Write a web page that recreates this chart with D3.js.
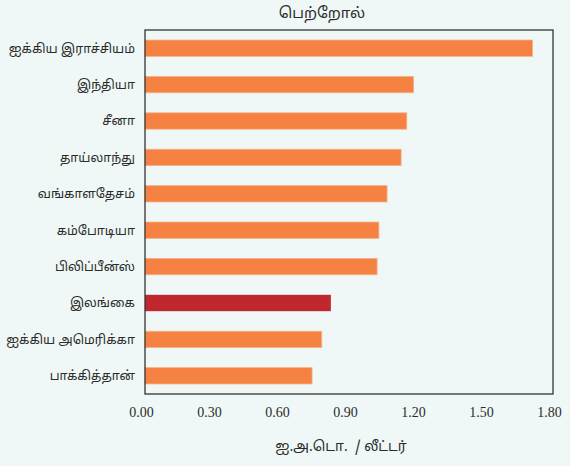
<!DOCTYPE html>
<html>
<head>
<meta charset="utf-8">
<style>
  body { margin: 0; background: #eff8f6; }
  svg text { fill: #2b2b2b; }
  .cat { font-family: "Noto Sans Tamil", "Noto Sans", sans-serif; font-size: 12.6px; white-space: pre; }
</style>
<script src="https://cdn.jsdelivr.net/npm/d3@7"></script>
</head>
<body>
<script>
// data
var countries = ["ஐக்கிய இராச்சியம்", "இந்தியா", "சீனா", "தாய்லாந்து", "வங்காளதேசம்",
                 "கம்போடியா", "பிலிப்பீன்ஸ்", "இலங்கை", "ஐக்கிய அமெரிக்கா", "பாக்கித்தான்"];
var prices = [1.71, 1.185, 1.155, 1.13, 1.068, 1.032, 1.024, 0.82, 0.78, 0.737];
var ticks = [0, 0.3, 0.6, 0.9, 1.2, 1.5, 1.8];
var highlight = "இலங்கை";

var width = 570, height = 466;
var margin = {top: 30, right: 17, bottom: 72, left: 145};

var svg = d3.select("body").append("svg")
    .attr("width", width)
    .attr("height", height);

var x = d3.scaleLinear()
    .domain([0, 1.8])
    .range([margin.left, width - margin.right]);

var y = d3.scaleBand()
    .domain(countries)
    .range([margin.top, height - margin.bottom])
    .paddingInner(0.55)
    .paddingOuter(0.275);

// bars
svg.selectAll("rect.bar")
    .data(countries)
  .enter().append("rect")
    .attr("class", "bar")
    .attr("x", x(0))
    .attr("y", function(d) { return y(d); })
    .attr("width", function(d, i) { return x(prices[i]) - x(0); })
    .attr("height", y.bandwidth())
    .attr("fill", function(d) { return d == highlight ? "#c1272f" : "#f58242"; })
    .attr("stroke", function(d) { return d == highlight ? "none" : "#f7b48c"; })
    .attr("stroke-width", 0.8);

// frame
svg.append("rect")
    .attr("x", margin.left)
    .attr("y", margin.top)
    .attr("width", width - margin.left - margin.right)
    .attr("height", height - margin.top - margin.bottom)
    .attr("fill", "none")
    .attr("stroke", "#333")
    .attr("stroke-width", 1.3);

// category labels
svg.selectAll("text.cat")
    .data(countries)
  .enter().append("text")
    .attr("class", "cat")
    .attr("x", 135)
    .attr("y", function(d) { return y(d) + y.bandwidth() / 2; })
    .attr("dy", "0.35em")
    .attr("text-anchor", "end")
    .text(function(d) { return d; });

// x axis, tick labels only
var xAxis = svg.append("g")
    .attr("transform", "translate(-4," + (height - margin.bottom) + ")")
    .call(d3.axisBottom(x).tickValues(ticks).tickFormat(d3.format(".2f")).tickSize(0).tickPadding(13));
xAxis.select(".domain").remove();
xAxis.selectAll(".tick text")
    .attr("font-family", "'Liberation Serif', serif")
    .attr("font-size", 14);

svg.append("text")
    .attr("class", "cat")
    .attr("x", 322)
    .attr("y", 18)
    .attr("text-anchor", "middle")
    .style("font-size", "15px")
    .text("பெற்றோல்");

svg.append("text")
    .attr("class", "cat")
    .attr("x", 341)
    .attr("y", 451)
    .attr("text-anchor", "middle")
    .style("font-size", "14px")
    .text("ஐ.அ.டொ.  / லீட்டர்");
</script>
</body>
</html>
